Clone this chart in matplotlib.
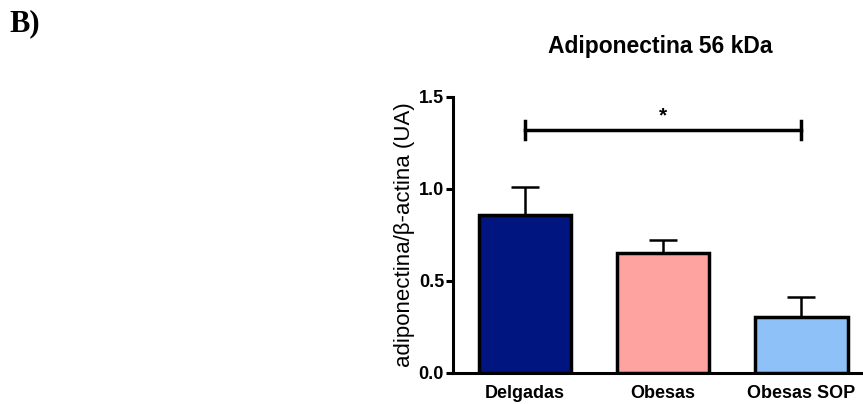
import matplotlib
import matplotlib.pyplot as plt

matplotlib.use("Agg")

categories = ["Delgadas", "Obesas", "Obesas SOP"]
values = [0.86, 0.65, 0.305]
errors = [0.15, 0.075, 0.11]
colors = ["#001580", "#FFA3A1", "#8EC1F7"]
yticks = [0.0, 0.5, 1.0, 1.5]
sig_y = 1.32

plt.rcParams["font.family"] = ["Liberation Sans", "DejaVu Sans"]

fig = plt.figure(figsize=(8.63, 4.04), dpi=100)
ax = fig.add_axes([0.525, 0.077, 0.49, 0.683])

x = list(range(len(categories)))
ax.bar(x, values, width=0.67, color=colors, edgecolor="black", linewidth=2.5, zorder=3)
ax.errorbar(x, values, yerr=[[0] * len(errors), errors], fmt="none",
            ecolor="black", elinewidth=1.8, capsize=10, capthick=1.8, zorder=2)

# significance bracket
ax.plot([0, 2], [sig_y, sig_y], color="black", lw=2.5, clip_on=False)
ax.plot([0, 0], [sig_y - 0.05, sig_y + 0.05], color="black", lw=2.5, clip_on=False)
ax.plot([2, 2], [sig_y - 0.05, sig_y + 0.05], color="black", lw=2.5, clip_on=False)
ax.text(1, sig_y + 0.025, "*", ha="center", va="bottom", fontsize=15, fontweight="bold")

ax.set_xlim(-0.52, 2.54)
ax.set_ylim(0, 1.5)
ax.set_yticks(yticks)
ax.set_yticklabels([f"{v:.1f}" for v in yticks], fontsize=13, fontweight="bold")
ax.set_xticks(x)
ax.set_xticklabels(categories, fontsize=13, fontweight="bold")
ax.tick_params(axis="x", length=0, pad=9)
ax.tick_params(axis="y", length=5, width=2.2, pad=1.5)
ax.spines["top"].set_visible(False)
ax.spines["right"].set_visible(False)
ax.spines["left"].set_linewidth(2.2)
ax.spines["bottom"].set_linewidth(2.2)
ax.set_ylabel("adiponectina/β-actina (UA)", fontsize=16, labelpad=3)

fig.text(0.765, 0.885, "Adiponectina 56 kDa", ha="center", va="center",
         fontsize=16.5, fontweight="bold")
fig.text(0.011, 0.942, "B)", ha="left", va="center", fontsize=22,
         fontweight="bold", family="Liberation Serif")

fig.savefig("out.png", dpi=100)
